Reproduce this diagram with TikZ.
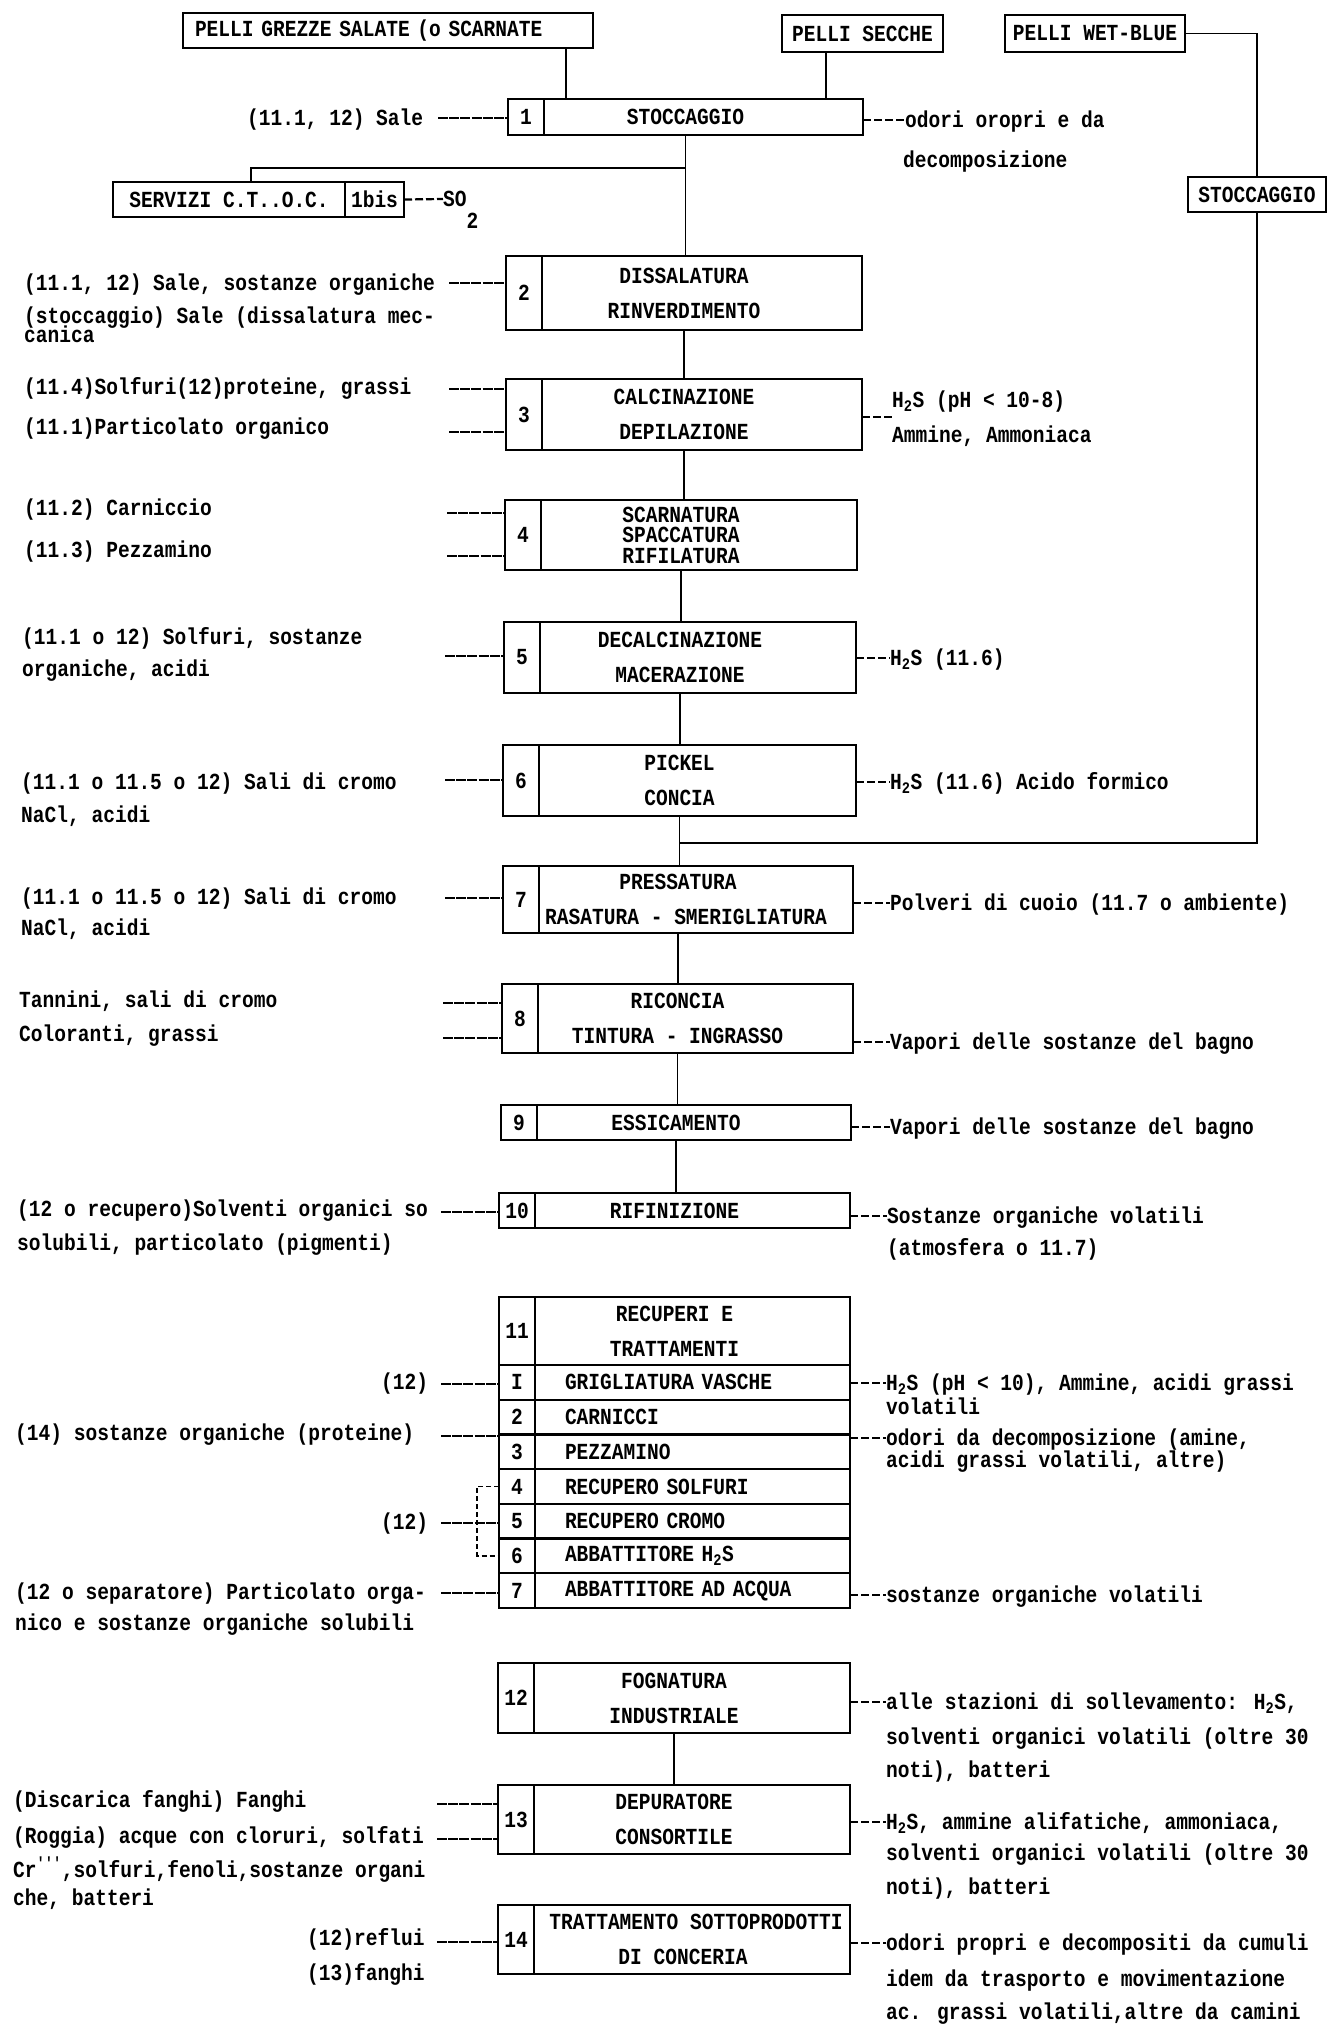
\documentclass[tikz,border=0pt]{standalone}
\usepackage{fontspec}
\newfontfamily\prt{Liberation Mono}[FakeStretch=0.85]
\usetikzlibrary{positioning}
\tikzset{
  prtfont/.style={font=\prt\bfseries\fontsize{23}{35}\selectfont},
  cella/.style={draw,line width=2.4pt,outer sep=0pt,inner sep=0pt,prtfont},
  num/.style={cella,minimum width=36pt},
  proc/.style={cella,align=center},
  rowcell/.style={cella,text width=255pt,inner xsep=30pt,align=left,minimum height=34.7pt},
  lab/.style={anchor=west,inner sep=0pt,text height=15pt,text depth=0pt,prtfont},
  flow/.style={line width=1.6pt},
  feed/.style={line width=2.6pt,dash pattern=on 10pt off 1.2pt},
  emit/.style={line width=2.2pt,dash pattern=on 8pt off 3pt},
  brk/.style={line width=1.6pt,dash pattern=on 5pt off 3pt}
}
\begin{document}
\begin{tikzpicture}[x=1pt,y=-1pt]
\fill[white] (0,0) rectangle (1335,2032);
\useasboundingbox (0,0) rectangle (1335,2032);

\node[cella,minimum height=35pt,text width=386pt,inner xsep=12pt,align=left,anchor=north west] (pg) at (183,13) {PELLI GREZZE SALATE (o SCARNATE};
\node[cella,minimum width=161pt,minimum height=37pt,anchor=north west] (ps) at (782,15) {PELLI SECCHE};
\node[cella,minimum width=180pt,minimum height=37pt,anchor=north west] (pw) at (1005,15) {PELLI WET-BLUE};
\node[cella,minimum width=138pt,minimum height=35pt,anchor=north west] (st) at (1188,177) {STOCCAGGIO};
\node[cella,minimum width=232pt,minimum height=35pt,anchor=north west] (sv) at (113,182) {SERVIZI C.T..O.C.};
\node[cella,minimum width=59pt,minimum height=35pt,right=0pt of sv] (sb) {1bis};
\node[lab] (so) at (443,199) {SO\raisebox{-22pt}{2}};

\node[proc,minimum width=355pt,minimum height=36pt,anchor=north west] (p1) at (508,99) {STOCCAGGIO};
\node[num,minimum height=36pt,anchor=west] (n1) at (p1.west) {1};
\node[proc,minimum width=356pt,minimum height=74pt,anchor=north west] (p2) at (506,256) {DISSALATURA\\RINVERDIMENTO};
\node[num,minimum height=74pt,anchor=west] (n2) at (p2.west) {2};
\node[proc,minimum width=356pt,minimum height=71pt,anchor=north west] (p3) at (506,379) {CALCINAZIONE\\DEPILAZIONE};
\node[num,minimum height=71pt,anchor=west] (n3) at (p3.west) {3};
\node[proc,minimum width=352pt,minimum height=70pt,anchor=north west] (p4) at (505,500) {SCARNATURA\\[-14.5pt]SPACCATURA\\[-14.5pt]RIFILATURA};
\node[num,minimum height=70pt,anchor=west] (n4) at (p4.west) {4};
\node[proc,minimum width=352pt,minimum height=71pt,anchor=north west] (p5) at (504,622) {DECALCINAZIONE\\MACERAZIONE};
\node[num,minimum height=71pt,anchor=west] (n5) at (p5.west) {5};
\node[proc,minimum width=353pt,minimum height=71pt,anchor=north west] (p6) at (503,745) {PICKEL\\CONCIA};
\node[num,minimum height=71pt,anchor=west] (n6) at (p6.west) {6};
\node[proc,minimum width=350pt,minimum height=67pt,anchor=north west] (p7) at (503,866) {PRESSATURA\\\hspace*{16pt}RASATURA - SMERIGLIATURA};
\node[num,minimum height=67pt,anchor=west] (n7) at (p7.west) {7};
\node[proc,minimum width=351pt,minimum height=69pt,anchor=north west] (p8) at (502,984) {RICONCIA\\TINTURA - INGRASSO};
\node[num,minimum height=69pt,anchor=west] (n8) at (p8.west) {8};
\node[proc,minimum width=350pt,minimum height=35pt,anchor=north west] (p9) at (501,1105) {ESSICAMENTO};
\node[num,minimum height=35pt,anchor=west] (n9) at (p9.west) {9};
\node[proc,minimum width=351pt,minimum height=35pt,anchor=north west] (p10) at (499,1193) {RIFINIZIONE};
\node[num,minimum height=35pt,anchor=west] (n10) at (p10.west) {10};

\node[proc,minimum width=351pt,minimum height=68pt,anchor=north west] (p11) at (499,1297) {RECUPERI E\\TRATTAMENTI};
\node[num,minimum height=68pt,anchor=west] (n11) at (p11.west) {11};
\node[num,minimum height=34.7pt,below=0pt of n11] (n11a) {I};
\node[rowcell,right=0pt of n11a] (p11a) {GRIGLIATURA VASCHE};
\node[num,minimum height=34.7pt,below=0pt of n11a] (n11b) {2};
\node[rowcell,right=0pt of n11b] (p11b) {CARNICCI};
\node[num,minimum height=34.7pt,below=0pt of n11b] (n11c) {3};
\node[rowcell,right=0pt of n11c] (p11c) {PEZZAMINO};
\node[num,minimum height=34.7pt,below=0pt of n11c] (n11d) {4};
\node[rowcell,right=0pt of n11d] (p11d) {RECUPERO SOLFURI};
\node[num,minimum height=34.7pt,below=0pt of n11d] (n11e) {5};
\node[rowcell,right=0pt of n11e] (p11e) {RECUPERO CROMO};
\node[num,minimum height=34.7pt,below=0pt of n11e] (n11f) {6};
\node[rowcell,right=0pt of n11f] (p11f) {ABBATTITORE H\textsubscript{2}S};
\node[num,minimum height=34.7pt,below=0pt of n11f] (n11g) {7};
\node[rowcell,right=0pt of n11g] (p11g) {ABBATTITORE AD ACQUA};

\node[proc,minimum width=352pt,minimum height=70pt,anchor=north west] (p12) at (498,1663) {FOGNATURA\\INDUSTRIALE};
\node[num,minimum height=70pt,anchor=west] (n12) at (p12.west) {12};
\node[proc,minimum width=352pt,minimum height=69pt,anchor=north west] (p13) at (498,1785) {DEPURATORE\\CONSORTILE};
\node[num,minimum height=69pt,anchor=west] (n13) at (p13.west) {13};
\node[proc,minimum width=352pt,minimum height=69pt,anchor=north west] (p14) at (498,1905) {\hspace*{44pt}TRATTAMENTO SOTTOPRODOTTI\\\hspace*{18pt}DI CONCERIA};
\node[num,minimum height=69pt,anchor=west] (n14) at (p14.west) {14};

\draw[flow] ([xshift=-27pt]pg.south east) coordinate (g1) -- (g1 |- p1.north);
\draw[flow] ([xshift=-36.5pt]ps.south) coordinate (g2) -- (g2 |- p1.north);
\draw[flow] (pw.east) -| (st.north);
\draw[flow] (p1.south) -- (p1.south |- p2.north);
\draw[flow] ([yshift=-33pt]p1.south) -| ([xshift=22pt]sv.north);
\draw[emit] (sb.east) -- (so.west);
\draw[flow] (p2.south) -- (p2.south |- p3.north);
\draw[flow] (p3.south) -- (p3.south |- p4.north);
\draw[flow] (p4.south) -- (p4.south |- p5.north);
\draw[flow] (p5.south) -- (p5.south |- p6.north);
\draw[flow] (p6.south) -- (p6.south |- p7.north);
\draw[flow] (p7.south) -- (p7.south |- p8.north);
\draw[flow] (p8.south) -- (p8.south |- p9.north);
\draw[flow] (p9.south) -- (p9.south |- p10.north);
\draw[flow] (p12.south) -- (p12.south |- p13.north);
\coordinate (j67) at (0,843);
\draw[flow] (st.south) |- (p6.south |- j67);

\node[lab] (l1) at (247,118) {(11.1, 12) Sale};
\node[lab] (l2a) at (24,283) {(11.1, 12) Sale, sostanze organiche};
\node[lab] (l2b) at (24,316) {(stoccaggio) Sale (dissalatura mec-};
\node[lab] (l2c) at (24,335) {canica};
\node[lab] (l3a) at (24,387) {(11.4)Solfuri(12)proteine, grassi};
\node[lab] (l3b) at (24,427) {(11.1)Particolato organico};
\node[lab] (l4a) at (24,508) {(11.2) Carniccio};
\node[lab] (l4b) at (24,550) {(11.3) Pezzamino};
\node[lab] (l5a) at (22,637) {(11.1 o 12) Solfuri, sostanze};
\node[lab] (l5b) at (22,669) {organiche, acidi};
\node[lab] (l6a) at (21,782) {(11.1 o 11.5 o 12) Sali di cromo};
\node[lab] (l6b) at (21,815) {NaCl, acidi};
\node[lab] (l7a) at (21,897) {(11.1 o 11.5 o 12) Sali di cromo};
\node[lab] (l7b) at (21,928) {NaCl, acidi};
\node[lab] (l8a) at (19,1000) {Tannini, sali di cromo};
\node[lab] (l8b) at (19,1034) {Coloranti, grassi};
\node[lab] (l10a) at (17,1209) {(12 o recupero)Solventi organici so};
\node[lab] (l10b) at (17,1243) {solubili, particolato (pigmenti)};
\node[lab] (l11a) at (381,1382) {(12)};
\node[lab] (l11b) at (15,1433) {(14) sostanze organiche (proteine)};
\node[lab] (l11c) at (381,1522) {(12)};
\node[lab] (l11d) at (15,1592) {(12 o separatore) Particolato orga-};
\node[lab] (l11e) at (15,1623) {nico e sostanze organiche solubili};
\node[lab] (l13a) at (13,1800) {(Discarica fanghi) Fanghi};
\node[lab] (l13b) at (13,1836) {(Roggia) acque con cloruri, solfati};
\node[lab] (l13c) at (13,1870) {Cr\textsuperscript{'''},solfuri,fenoli,sostanze organi};
\node[lab] (l13d) at (13,1898) {che, batteri};
\node[lab] (l14a) at (307,1938) {(12)reflui};
\node[lab] (l14b) at (307,1973) {(13)fanghi};

\coordinate (f1) at (438,118);
\coordinate (f2) at (449,283);
\coordinate (f3a) at (449,389);
\coordinate (f3b) at (449,432);
\coordinate (f4a) at (447,513);
\coordinate (f4b) at (447,556);
\coordinate (f5) at (445,656);
\coordinate (f6) at (445,780);
\coordinate (f7) at (445,898);
\coordinate (f8a) at (443,1003);
\coordinate (f8b) at (443,1038);
\coordinate (f10) at (441,1212);
\coordinate (f11a) at (441,1384);
\coordinate (f11b) at (441,1436);
\coordinate (f11c) at (441,1523);
\coordinate (f11d) at (441,1593);
\coordinate (f13a) at (437,1804);
\coordinate (f13b) at (437,1839);
\coordinate (f14) at (437,1942);
\coordinate (k12) at (477,1523);
\draw[feed] (f1) -- (f1 -| n1.west);
\draw[feed] (f2) -- (f2 -| n2.west);
\draw[feed] (f3a) -- (f3a -| n3.west);
\draw[feed] (f3b) -- (f3b -| n3.west);
\draw[feed] (f4a) -- (f4a -| n4.west);
\draw[feed] (f4b) -- (f4b -| n4.west);
\draw[feed] (f5) -- (f5 -| n5.west);
\draw[feed] (f6) -- (f6 -| n6.west);
\draw[feed] (f7) -- (f7 -| n7.west);
\draw[feed] (f8a) -- (f8a -| n8.west);
\draw[feed] (f8b) -- (f8b -| n8.west);
\draw[feed] (f10) -- (f10 -| n10.west);
\draw[feed] (f11a) -- (f11a -| n11a.west);
\draw[feed] (f11b) -- (f11b -| n11b.west);
\draw[feed] (f11c) -- (f11c -| n11e.west);
\draw[brk] (n11d.west) -| (k12) |- (n11f.west);
\draw[feed] (f11d) -- (f11d -| n11g.west);
\draw[feed] (f13a) -- (f13a -| n13.west);
\draw[feed] (f13b) -- (f13b -| n13.west);
\draw[feed] (f14) -- (f14 -| n14.west);

\node[lab] (r1a) at (905,120) {odori oropri e da};
\node[lab] (r1b) at (903,160) {decomposizione};
\node[lab] (r3a) at (892,400) {H\textsubscript{2}S (pH < 10-8)};
\node[lab] (r3b) at (892,435) {Ammine, Ammoniaca};
\node[lab] (r5) at (890,658) {H\textsubscript{2}S (11.6)};
\node[lab] (r6) at (890,782) {H\textsubscript{2}S (11.6) Acido formico};
\node[lab] (r7) at (890,903) {Polveri di cuoio (11.7 o ambiente)};
\node[lab] (r8) at (890,1042) {Vapori delle sostanze del bagno};
\node[lab] (r9) at (890,1127) {Vapori delle sostanze del bagno};
\node[lab] (r10a) at (887,1216) {Sostanze organiche volatili};
\node[lab] (r10b) at (887,1248) {(atmosfera o 11.7)};
\node[lab] (r11a) at (886,1383) {H\textsubscript{2}S (pH < 10), Ammine, acidi grassi};
\node[lab] (r11b) at (886,1407) {volatili};
\node[lab] (r11c) at (886,1438) {odori da decomposizione (amine,};
\node[lab] (r11d) at (886,1460) {acidi grassi volatili, altre)};
\node[lab] (r11e) at (886,1595) {sostanze organiche volatili};
\node[lab] (r12a) at (886,1702) {alle stazioni di sollevamento: H\textsubscript{2}S,};
\node[lab] (r12b) at (886,1737) {solventi organici volatili (oltre 30};
\node[lab] (r12c) at (886,1770) {noti), batteri};
\node[lab] (r13a) at (886,1822) {H\textsubscript{2}S, ammine alifatiche, ammoniaca,};
\node[lab] (r13b) at (886,1853) {solventi organici volatili (oltre 30};
\node[lab] (r13c) at (886,1887) {noti), batteri};
\node[lab] (r14a) at (886,1943) {odori propri e decompositi da cumuli};
\node[lab] (r14b) at (886,1979) {idem da trasporto e movimentazione};
\node[lab] (r14c) at (886,2012) {ac. grassi volatili,altre da camini};

\coordinate (e3) at (892,417);
\draw[emit] (r1a.west -| p1.east) -- (r1a.west);
\draw[emit] (e3 -| p3.east) -- (e3);
\draw[emit] (r5.west -| p5.east) -- (r5.west);
\draw[emit] (r6.west -| p6.east) -- (r6.west);
\draw[emit] (r7.west -| p7.east) -- (r7.west);
\draw[emit] (r8.west -| p8.east) -- (r8.west);
\draw[emit] (r9.west -| p9.east) -- (r9.west);
\draw[emit] (r10a.west -| p10.east) -- (r10a.west);
\draw[emit] (r11a.west -| p11a.east) -- (r11a.west);
\draw[emit] (r11c.west -| p11c.east) -- (r11c.west);
\draw[emit] (r11e.west -| p11g.east) -- (r11e.west);
\draw[emit] (r12a.west -| p12.east) -- (r12a.west);
\draw[emit] (r13a.west -| p13.east) -- (r13a.west);
\draw[emit] (r14a.west -| p14.east) -- (r14a.west);
\end{tikzpicture}
\end{document}
